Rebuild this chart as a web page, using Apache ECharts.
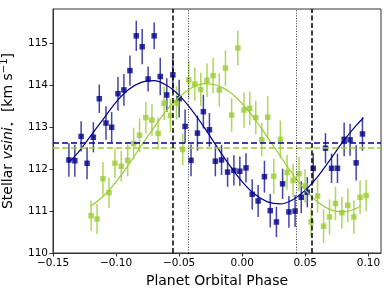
<!DOCTYPE html>
<html><head><meta charset="utf-8">
<script src="https://cdn.jsdelivr.net/npm/echarts@6/dist/echarts.min.js"></script>
<style>html,body{margin:0;padding:0;background:#fff}#c{width:390px;height:293px}</style>
</head><body><div id="c"></div>
<script>
const navyX = [-0.1374,-0.1327,-0.1277,-0.1230,-0.1180,-0.1133,-0.1080,-0.1035,-0.0985,-0.0938,-0.0890,-0.0840,-0.0793,-0.0746,-0.0698,-0.0650,-0.0598,-0.0550,-0.0500,-0.0453,-0.0406,-0.0355,-0.0308,-0.0260,-0.0213,-0.0164,-0.0116,-0.0066,-0.0019,0.0030,0.0079,0.0126,0.0176,0.0222,0.0271,0.0320,0.0370,0.0419,0.0468,0.0516,0.0563,0.0660,0.0708,0.0755,0.0808,0.0855,0.0903,0.0953];
const navyY = [112.22,112.20,112.78,112.14,112.76,113.68,113.10,113.00,113.80,113.89,114.35,115.18,114.92,114.15,115.18,114.21,113.77,114.25,113.68,113.02,112.21,112.86,113.37,112.94,112.19,112.22,111.93,111.97,111.95,112.03,111.40,111.24,111.82,111.01,110.74,111.65,110.98,111.00,111.33,111.45,112.02,112.50,112.02,112.02,112.71,112.70,112.15,112.84];
const navyErr = [0.4,0.38,0.36,0.38,0.36,0.34,0.4,0.36,0.4,0.38,0.36,0.36,0.42,0.3,0.32,0.45,0.4,0.42,0.45,0.4,0.38,0.42,0.4,0.4,0.36,0.36,0.35,0.36,0.35,0.35,0.36,0.38,0.38,0.4,0.36,0.36,0.38,0.38,0.38,0.36,0.36,0.36,0.35,0.35,0.4,0.38,0.42,0.4];

const greenX = [-0.1198,-0.1151,-0.1104,-0.1056,-0.1009,-0.0959,-0.0908,-0.0861,-0.0814,-0.0764,-0.0716,-0.0667,-0.0619,-0.0569,-0.0521,-0.0472,-0.0424,-0.0376,-0.0329,-0.0279,-0.0231,-0.0182,-0.0133,-0.0084,-0.0035,0.0014,0.0060,0.0107,0.0155,0.0202,0.0250,0.0302,0.0355,0.0403,0.0450,0.0498,0.0546,0.0597,0.0645,0.0692,0.0739,0.0790,0.0837,0.0885,0.0934,0.0982];
const greenY = [110.89,110.81,111.77,111.44,112.14,112.07,112.21,112.61,112.81,113.23,113.17,112.85,113.57,113.28,113.58,112.47,114.13,114.03,113.90,114.12,114.23,113.89,114.41,113.29,114.89,113.41,113.45,113.23,112.70,113.24,111.83,112.71,111.92,111.73,111.89,111.60,110.74,111.36,110.64,110.86,111.18,110.96,111.14,110.86,111.33,111.37];
const greenErr = [0.36,0.36,0.4,0.36,0.36,0.36,0.38,0.38,0.4,0.38,0.38,0.38,0.4,0.4,0.4,0.38,0.45,0.4,0.4,0.4,0.42,0.4,0.42,0.4,0.42,0.42,0.4,0.4,0.4,0.5,0.42,0.45,0.42,0.4,0.42,0.4,0.36,0.4,0.4,0.42,0.4,0.38,0.4,0.4,0.4,0.38];

const navyFitX = [-0.138,-0.13,-0.12,-0.11,-0.10,-0.09,-0.08,-0.07,-0.06,-0.05,-0.04,-0.03,-0.02,-0.01,0.00,0.01,0.02,0.03,0.04,0.05,0.06,0.07,0.08,0.09,0.096];
const navyFitY = [112.15,112.40,112.80,113.20,113.60,113.90,114.07,114.11,114.00,113.76,113.41,112.99,112.53,112.09,111.70,111.40,111.22,111.17,111.27,111.50,111.83,112.24,112.66,113.03,113.22];
const greenFitX = [-0.12,-0.11,-0.10,-0.09,-0.08,-0.07,-0.06,-0.05,-0.04,-0.03,-0.02,-0.01,0.00,0.01,0.02,0.03,0.04,0.05,0.06,0.07,0.08,0.09,0.094];
const greenFitY = [111.12,111.36,111.70,112.11,112.56,112.99,113.40,113.72,113.94,114.04,114.00,113.84,113.56,113.19,112.76,112.32,111.88,111.50,111.21,111.03,110.98,111.06,111.13];

const meanLevels = [112.64, 112.50];
const dashedPhases = [-0.055, 0.055];
const dottedPhases = [-0.0425, 0.0425];
const xTicks = [-0.15, -0.10, -0.05, 0.00, 0.05, 0.10];
const yTicks = [110, 111, 112, 113, 114, 115];

const NAVY = '#00008B', GREEN = '#9ACD32';
const pairs = (xs, ys) => xs.map((x, i) => [x, ys[i]]);
const errs = (xs, ys, es) => xs.map((x, i) => [x, ys[i] - es[i], ys[i] + es[i]]);

function errSeries(data, color) {
  return {
    type: 'custom', data, encode: { x: 0, y: [1, 2] }, clip: true, silent: true,
    renderItem: (params, api) => {
      const a = api.coord([api.value(0), api.value(1)]);
      const b = api.coord([api.value(0), api.value(2)]);
      return { type: 'line', shape: { x1: a[0], y1: a[1], x2: b[0], y2: b[1] },
               style: { stroke: color, lineWidth: 1.5 } };
    }
  };
}

const fmtX = v => {
  if (Math.abs(v) < 1e-9) return '0.00';
  return (v < 0 ? '\u2212' : '') + Math.abs(v).toFixed(2);
};

const chart = echarts.init(document.getElementById('c'), null, { renderer: 'canvas' });
chart.setOption({
  backgroundColor: '#fff',
  animation: false,
  grid: { left: 53, right: 9, top: 9, bottom: 40, show: true, borderColor: '#333', borderWidth: 1,
          containLabel: false, outerBoundsMode: 'none' },
  xAxis: {
    type: 'value', min: -0.15, max: 0.11, interval: 0.05,
    name: 'Planet Orbital Phase', nameLocation: 'middle', nameGap: 21,
    nameTextStyle: { fontFamily: 'DejaVu Sans', fontSize: 14, color: '#000' },
    axisLine: { show: true, onZero: false, lineStyle: { color: '#333' } },
    axisTick: { show: true, length: 3.5, lineStyle: { color: '#333' } },
    axisLabel: { fontFamily: 'DejaVu Sans', fontSize: 10.5, color: '#000', margin: 5,
                 formatter: fmtX, showMaxLabel: false },
    splitLine: { show: false }
  },
  yAxis: {
    type: 'value', min: 110, max: 115.82, interval: 1,
    name: '{a|Stellar }{i|vsini}{s|\u22c6}{a|  [km s}{sup|\u22121}{a|]}',
    nameLocation: 'middle', nameGap: 30, nameRotate: 90,
    nameTextStyle: {
      fontFamily: 'DejaVu Sans', fontSize: 14, color: '#000',
      rich: {
        a: { fontFamily: 'DejaVu Sans', fontSize: 14, lineHeight: 18, color: '#000' },
        i: { fontFamily: 'DejaVu Sans', fontStyle: 'italic', fontSize: 14, lineHeight: 18, color: '#000' },
        s: { fontFamily: 'DejaVu Sans', fontSize: 10, lineHeight: 10, verticalAlign: 'bottom', color: '#000' },
        sup: { fontFamily: 'DejaVu Sans', fontSize: 10, lineHeight: 10, verticalAlign: 'top', color: '#000' }
      }
    },
    axisLine: { show: true, onZero: false, lineStyle: { color: '#333' } },
    axisTick: { show: true, length: 3.5, lineStyle: { color: '#333' } },
    axisLabel: { fontFamily: 'DejaVu Sans', fontSize: 10.5, color: '#000', margin: 5,
                 showMaxLabel: false, formatter: v => (yTicks.indexOf(Math.round(v)) >= 0 && Math.abs(v - Math.round(v)) < 1e-6) ? String(Math.round(v)) : '' },
    splitLine: { show: false }
  },
  series: [
    errSeries(errs(navyX, navyY, navyErr), 'rgba(20,20,150,0.8)'),
    { type: 'scatter', data: pairs(navyX, navyY), symbol: 'rect', symbolSize: 5.5,
      itemStyle: { color: NAVY }, silent: true },
    errSeries(errs(greenX, greenY, greenErr), 'rgba(154,205,50,0.8)'),
    { type: 'scatter', data: pairs(greenX, greenY), symbol: 'rect', symbolSize: 5.5,
      itemStyle: { color: GREEN }, silent: true },
    { type: 'line', data: pairs(navyFitX, navyFitY), smooth: 0.4, showSymbol: false,
      lineStyle: { color: NAVY, width: 1.2 }, silent: true },
    { type: 'line', data: pairs(greenFitX, greenFitY), smooth: 0.4, showSymbol: false,
      lineStyle: { color: GREEN, width: 1.2 }, silent: true,
      markLine: {
        symbol: 'none', silent: true, label: { show: false }, animation: false, precision: 5,
        data: [
          { yAxis: meanLevels[0], lineStyle: { color: NAVY, type: [6, 3], width: 1.5 } },
          { yAxis: meanLevels[1], lineStyle: { color: GREEN, type: [6, 3], width: 1.5 } },
          ...dashedPhases.map(v => ({ xAxis: v, lineStyle: { color: '#000', type: [5, 2.5], width: 1.5 } })),
          ...dottedPhases.map(v => ({ xAxis: v, lineStyle: { color: '#222', type: [1, 1.6], width: 0.9 } }))
        ]
      }
    }
  ]
});
</script></body></html>
